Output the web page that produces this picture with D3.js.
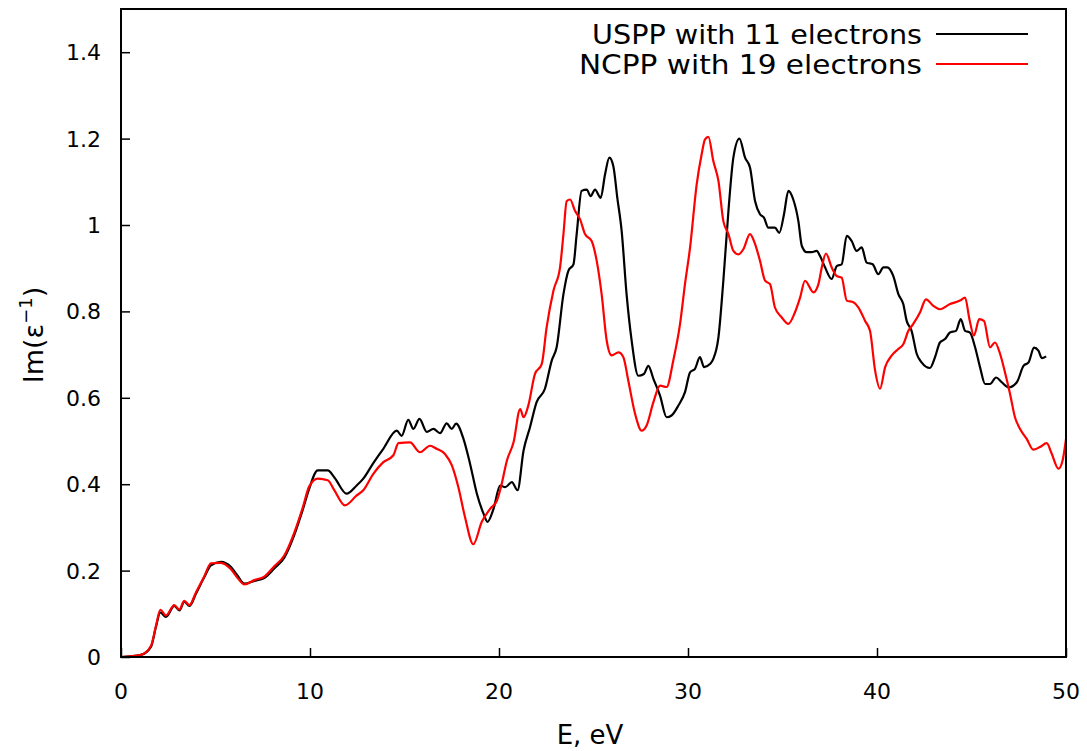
<!DOCTYPE html>
<html><head><meta charset="utf-8">
<script src="https://cdn.jsdelivr.net/npm/d3@7"></script>
<style>body{margin:0;background:#fff}svg{display:block}text{font-family:"DejaVu Sans",sans-serif;fill:#000}</style>
</head><body><svg id="c" width="1087" height="751"></svg>
<script>
const usppE = [0,1.06,1.59,1.85,2.08,2.38,2.82,3.09,3.35,3.62,3.97,4.41,4.76,5.29,5.82,6.17,6.53,7.05,7.58,8.11,8.64,9.17,9.61,9.96,10.41,10.94,11.3,11.94,12.47,12.82,13.35,13.88,14.59,14.85,15.2,15.47,15.79,16.18,16.53,16.88,17.23,17.5,17.73,18.12,18.47,18.83,19.18,19.39,19.71,20.06,20.33,20.68,20.98,21.3,21.64,21.99,22.43,22.79,23.05,23.41,23.67,23.94,24.11,24.37,24.64,24.85,25.08,25.38,25.61,25.84,26.05,26.26,26.49,26.75,27.02,27.37,27.67,27.9,28.17,28.52,28.87,29.13,29.49,29.84,30.11,30.37,30.63,30.85,31.16,31.34,31.61,31.87,32.14,32.4,32.72,33.02,33.28,33.55,33.81,34.02,34.25,34.6,34.83,35.08,35.31,35.57,35.84,36.02,36.28,36.55,36.81,36.98,37.25,37.6,37.87,38.13,38.4,38.66,38.92,39.19,39.45,39.77,40.07,40.34,40.54,40.86,41.13,41.39,41.57,41.83,42.1,42.36,42.8,43.07,43.33,43.6,43.86,44.18,44.43,44.66,44.92,45.19,45.45,45.72,45.98,46.3,46.6,46.96,47.4,47.75,48.02,48.31,48.54,48.72,48.95];
const usppV = [0,0.005,0.024,0.07,0.103,0.093,0.118,0.108,0.128,0.118,0.147,0.185,0.212,0.220,0.208,0.188,0.170,0.176,0.183,0.205,0.230,0.283,0.340,0.390,0.432,0.432,0.415,0.378,0.397,0.413,0.449,0.482,0.524,0.512,0.549,0.528,0.551,0.521,0.528,0.518,0.541,0.528,0.540,0.505,0.447,0.378,0.332,0.313,0.343,0.397,0.393,0.405,0.386,0.478,0.532,0.590,0.621,0.686,0.717,0.840,0.894,0.909,0.979,1.079,1.082,1.067,1.082,1.063,1.117,1.156,1.136,1.063,0.986,0.840,0.732,0.651,0.655,0.674,0.644,0.605,0.555,0.559,0.582,0.613,0.659,0.667,0.694,0.671,0.678,0.690,0.740,0.871,1.033,1.156,1.200,1.156,1.133,1.055,1.025,1.017,0.994,0.994,0.982,1.025,1.079,1.059,1.009,0.952,0.937,0.937,0.940,0.929,0.902,0.875,0.905,0.909,0.975,0.963,0.940,0.948,0.913,0.909,0.886,0.902,0.902,0.882,0.840,0.817,0.778,0.755,0.702,0.682,0.669,0.694,0.728,0.736,0.751,0.755,0.782,0.755,0.751,0.717,0.671,0.632,0.632,0.647,0.636,0.624,0.636,0.674,0.682,0.716,0.709,0.692,0.696];
const ncppE = [0,1.06,1.59,1.85,2.08,2.38,2.82,3.09,3.35,3.62,3.97,4.41,4.76,5.29,5.82,6.17,6.53,7.05,7.58,8.11,8.64,9.17,9.61,9.96,10.41,10.94,11.3,11.85,12.47,12.82,13.35,13.88,14.41,14.68,15.29,15.82,16.35,16.7,17.14,17.5,17.85,18.2,18.64,19.09,19.53,19.88,20.1,20.42,20.77,21.12,21.3,21.55,21.9,22.26,22.52,22.88,23.23,23.41,23.58,23.76,24.02,24.29,24.55,24.9,25.17,25.43,25.7,25.96,26.32,26.58,26.84,27.2,27.55,27.81,28.17,28.52,28.87,29.22,29.58,29.84,30.11,30.46,30.72,30.9,31.08,31.34,31.61,31.87,32.14,32.4,32.67,32.93,33.28,33.55,33.81,34.08,34.34,34.6,34.96,35.31,35.66,35.93,36.19,36.64,36.9,37.08,37.3,37.6,37.87,38.13,38.4,38.75,39.02,39.37,39.63,39.9,40.16,40.43,40.78,41.13,41.39,41.66,41.92,42.28,42.59,42.98,43.33,43.86,44.39,44.66,44.89,45.13,45.41,45.66,45.98,46.24,46.51,46.77,47.04,47.3,47.57,47.92,48.27,48.62,48.98,49.24,49.6,49.82,50];
const ncppV = [0,0.005,0.026,0.072,0.109,0.096,0.120,0.110,0.130,0.120,0.150,0.187,0.217,0.218,0.203,0.183,0.168,0.178,0.186,0.210,0.235,0.288,0.345,0.395,0.413,0.409,0.385,0.351,0.374,0.386,0.424,0.451,0.467,0.495,0.497,0.474,0.489,0.482,0.470,0.444,0.393,0.324,0.261,0.313,0.343,0.361,0.393,0.455,0.497,0.574,0.555,0.582,0.655,0.678,0.763,0.848,0.902,0.979,1.055,1.059,1.033,1.013,0.979,0.963,0.917,0.840,0.732,0.698,0.705,0.694,0.640,0.563,0.524,0.536,0.590,0.628,0.625,0.686,0.771,0.863,0.948,1.094,1.163,1.198,1.204,1.148,1.102,1.009,0.979,0.940,0.932,0.944,0.979,0.956,0.917,0.871,0.863,0.809,0.786,0.771,0.798,0.832,0.871,0.844,0.863,0.902,0.934,0.902,0.882,0.878,0.825,0.821,0.809,0.778,0.755,0.663,0.621,0.671,0.698,0.713,0.724,0.755,0.771,0.798,0.828,0.813,0.805,0.817,0.825,0.832,0.782,0.744,0.782,0.778,0.717,0.728,0.702,0.659,0.609,0.555,0.528,0.505,0.480,0.486,0.495,0.471,0.436,0.455,0.505];
const xTicks = [0,10,20,30,40,50];
const yTicks = [0,0.2,0.4,0.6,0.8,1,1.2,1.4];
const seriesNames = ["USPP with 11 electrons","NCPP with 19 electrons"];
const seriesColors = ["#000000","#ff0000"];

const svg = d3.select("#c");
const L=121, R=1066, T=9, B=657;
const x = d3.scaleLinear().domain([0,50]).range([L,R]);
const y = d3.scaleLinear().domain([0,1.5]).range([B,T]);

svg.append("defs").append("clipPath").attr("id","clip").append("rect")
  .attr("x",L).attr("y",T).attr("width",R-L).attr("height",B-T);

// ticks (inward)
const gx = svg.append("g").attr("transform",`translate(0,${B})`)
  .call(d3.axisTop(x).tickValues(xTicks).tickSize(9).tickFormat(""));
gx.select(".domain").remove();
gx.selectAll("line").attr("stroke","#000").attr("stroke-width",1.5);
const gy = svg.append("g").attr("transform",`translate(${L},0)`)
  .call(d3.axisRight(y).tickValues(yTicks).tickSize(9).tickFormat(""));
gy.select(".domain").remove();
gy.selectAll("line").attr("stroke","#000").attr("stroke-width",1.5);

// tick labels
svg.append("g").selectAll("text").data(xTicks).join("text")
  .attr("x",d=>x(d)).attr("y",699).attr("text-anchor","middle")
  .attr("font-size",22).text(d=>d);
svg.append("g").selectAll("text").data(yTicks).join("text")
  .attr("x",101).attr("y",d=>y(d)+8).attr("text-anchor","end")
  .attr("font-size",22).text(d=>d3.format("")(d));

// axis titles
svg.append("text").attr("x",590).attr("y",744).attr("text-anchor","middle")
  .attr("font-size",26).text("E, eV");
const yt = svg.append("text").attr("transform","translate(43,335) rotate(-90)")
  .attr("text-anchor","middle").attr("font-size",27);
yt.append("tspan").text("Im(ε");
yt.append("tspan").attr("font-size",18).attr("dy",-11).text("−1");
yt.append("tspan").attr("dy",11).text(")");

// lines
const line = d3.line().x(d=>x(d[0])).y(d=>y(d[1])).curve(d3.curveMonotoneX);
const data = [d3.zip(usppE,usppV), d3.zip(ncppE,ncppV)];
const g = svg.append("g").attr("clip-path","url(#clip)");
data.forEach((s,i)=>{
  g.append("path").datum(s).attr("d",line).attr("fill","none")
   .attr("stroke",seriesColors[i]).attr("stroke-width",2.2).attr("stroke-linejoin","round");
});

// frame
svg.append("rect").attr("x",L).attr("y",T).attr("width",R-L).attr("height",B-T)
  .attr("fill","none").attr("stroke","#000").attr("stroke-width",2);

// legend
const legendLen = [330,343];
seriesNames.forEach((n,i)=>{
  const yy = 34 + i*30;
  svg.append("text").attr("x",922).attr("y",yy+10).attr("text-anchor","end")
    .attr("font-size",27).attr("textLength",legendLen[i]).attr("lengthAdjust","spacingAndGlyphs").text(n);
  svg.append("line").attr("x1",936).attr("x2",1028).attr("y1",yy).attr("y2",yy)
    .attr("stroke",seriesColors[i]).attr("stroke-width",2);
});
</script></body></html>
